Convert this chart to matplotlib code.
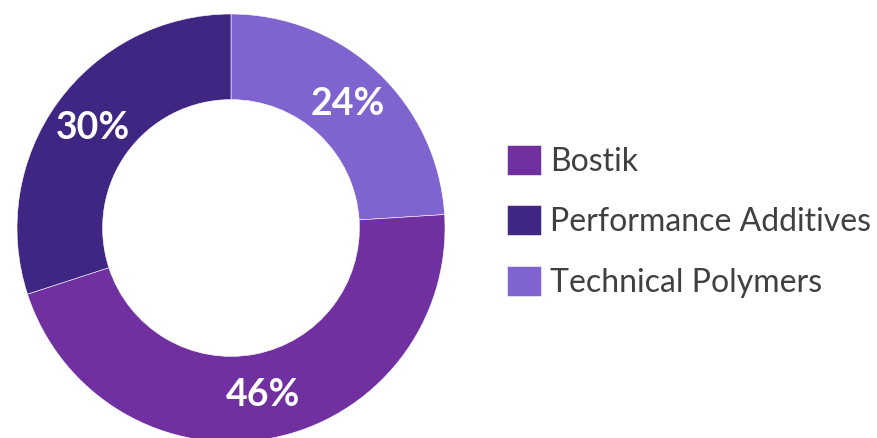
import matplotlib.pyplot as plt

# data, clockwise from 12 o'clock
segments = ['Technical Polymers', 'Bostik', 'Performance Additives']
shares = [24, 46, 30]
colors = ['#7F63CE', '#7030A0', '#3F2682']
legend_order = ['Bostik', 'Performance Additives', 'Technical Polymers']

W, H = 877, 438
fig = plt.figure(figsize=(W / 100, H / 100), dpi=100)

# donut centre (231, 228) px from top-left, outer radius 214 px
cx, cy, r = 231, 228, 214
ax = fig.add_axes([(cx - r) / W, (H - cy - r) / H, 2 * r / W, 2 * r / H])

wedges, texts, autotexts = ax.pie(
    shares, colors=colors, startangle=90, counterclock=False,
    radius=1, pctdistance=0.795, autopct='%d%%',
    wedgeprops=dict(width=0.4, edgecolor='white', linewidth=0.4),
    textprops=dict(color='white', fontsize=27, fontweight='bold', family='Lato'))
ax.set_xlim(-1, 1)
ax.set_ylim(-1, 1)
ax.set_aspect('equal')
ax.axis('off')
for w in wedges:
    w.set_clip_on(False)

handles = [wedges[segments.index(s)] for s in legend_order]
fig.legend(handles, legend_order, loc='upper left',
           bbox_to_anchor=(507 / W, 1 - 145 / H), frameon=False,
           borderpad=0, borderaxespad=0,
           prop=dict(family='Lato', size=23), labelcolor='#404040',
           handlelength=1.05, handleheight=1.05, handletextpad=0.3,
           labelspacing=0.9)

fig.savefig('out.png', dpi=100)
